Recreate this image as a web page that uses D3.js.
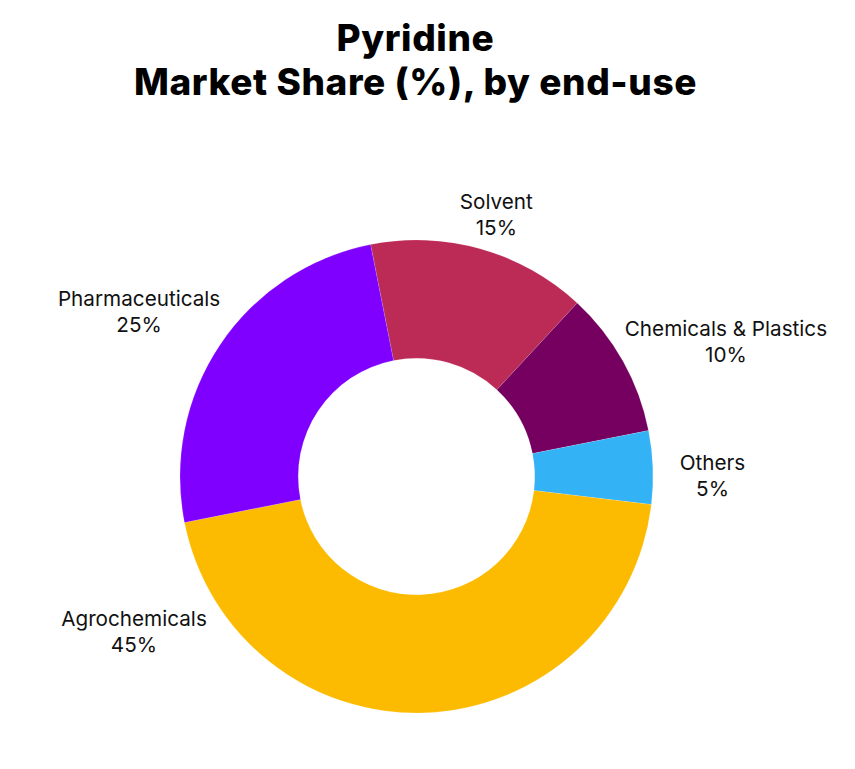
<!DOCTYPE html>
<html>
<head>
<meta charset="utf-8">
<script src="https://cdn.jsdelivr.net/npm/d3@7"></script>
<style>
  html, body { margin: 0; padding: 0; background: #ffffff; }
  svg { display: block; }
</style>
</head>
<body>
<div id="chart"></div>
<script>
// ---- Data ----
const categories = ["Solvent", "Chemicals & Plastics", "Others", "Agrochemicals", "Pharmaceuticals"];
const shares = [15, 10, 5, 45, 25];
const colors = ["#BC2B56", "#75005F", "#33B2F5", "#FCBB00", "#8000FF"];
const titleLines = ["Pyridine", "Market Share (%), by end-use"];

// ---- Layout (not data) ----
const W = 855, H = 769;
const cx = 416.5, cy = 476.5;
const outerR = 236.5, innerR = 118.3;
const startDeg = -11.2;
// label anchor in polar form: [angle deg clockwise from top, distance]
const labelPolar = [[17.0, 273], [66.5, 337.4], [89.9, 296], [241.1, 322.7], [300.6, 322.3]];

const svg = d3.select("#chart").append("svg")
  .attr("width", W).attr("height", H);

// Title
const title = svg.append("text")
  .attr("text-anchor", "middle")
  .attr("font-family", "Inter, 'Noto Sans', sans-serif")
  .attr("font-weight", 800)
  .attr("font-size", 37)
  .attr("letter-spacing", 0.6)
  .attr("fill", "#000");
title.selectAll("tspan").data(titleLines).join("tspan")
  .attr("x", 415.5)
  .attr("y", (d, i) => 51 + i * 44)
  .text(d => d);

const data = categories.map((c, i) => ({ name: c, value: shares[i], color: colors[i], lp: labelPolar[i] }));

const pie = d3.pie().value(d => d.value).sort(null)
  .startAngle(startDeg * Math.PI / 180)
  .endAngle((startDeg + 360) * Math.PI / 180);
const arc = d3.arc().innerRadius(innerR).outerRadius(outerR);

const g = svg.append("g").attr("transform", `translate(${cx},${cy})`);
g.selectAll("path").data(pie(data)).join("path")
  .attr("d", arc)
  .attr("fill", d => d.data.color)
  .attr("stroke", "rgba(255,255,255,0.25)")
  .attr("stroke-width", 0.5);

// Labels
const lbl = g.selectAll("g.lbl").data(data).join("g").attr("class", "lbl")
  .attr("transform", d => {
    const a = d.lp[0] * Math.PI / 180;
    return `translate(${d.lp[1] * Math.sin(a)},${-d.lp[1] * Math.cos(a)})`;
  });
lbl.append("text")
  .attr("text-anchor", "middle")
  .attr("font-family", "Inter, 'Noto Sans', sans-serif")
  .attr("font-size", 20.7)
  .attr("fill", "#111")
  .selectAll("tspan")
  .data(d => [d.name, d.value + "%"])
  .join("tspan")
  .attr("x", 0)
  .attr("y", (d, i) => -6 + i * 26)
  .text(d => d);
</script>
</body>
</html>
